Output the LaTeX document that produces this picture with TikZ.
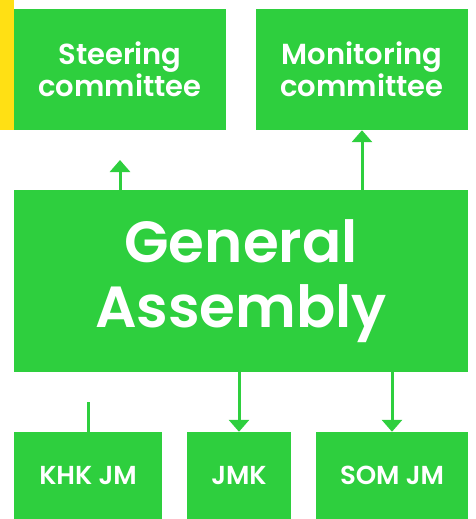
\documentclass[tikz,border=0pt]{standalone}
\usepackage{fontspec}
\setmainfont{Poppins}[BoldFont={Poppins SemiBold}]
\usetikzlibrary{arrows.meta}
\definecolor{gr}{RGB}{46,207,62}
\definecolor{yl}{RGB}{255,224,20}
\begin{document}
\begin{tikzpicture}[x=1pt,y=-1pt,
  box/.style={fill=gr,draw=none,inner sep=0pt,text=white,align=center},
  conn/.style={draw=gr,line width=3pt,-{Triangle[width=20pt,length=12pt]}},
  plain/.style={draw=gr,line width=3pt}]
\useasboundingbox (0,0) rectangle (475,519);
\fill[yl] (0,0) rectangle (14,130);
\node[box,minimum width=212pt,minimum height=121pt,font=\fontsize{29}{32}\selectfont\bfseries] (steer) at (120,69.5) {Steering\\committee};
\node[box,minimum width=212pt,minimum height=121pt,font=\fontsize{29}{32}\selectfont\bfseries] (mon) at (362,69.5) {Monitoring\\committee};
\node[box,minimum width=454pt,minimum height=182pt,font=\fontsize{58}{65}\selectfont\bfseries] (ga) at (241,281) {General\\Assembly};
\node[box,minimum width=148pt,minimum height=87pt,font=\fontsize{26}{30}\selectfont\bfseries] (khk) at (88,475.5) {KHK JM};
\node[box,minimum width=104pt,minimum height=87pt,font=\fontsize{26}{30}\selectfont\bfseries] (jmk) at (239,475.5) {JMK};
\node[box,minimum width=152pt,minimum height=87pt,font=\fontsize{26}{30}\selectfont\bfseries] (som) at (392,475.5) {SOM JM};
\coordinate (steerend) at (120,160);
\coordinate (khkend) at (88,402);
\draw[conn] (ga.north -| steerend) -- (steerend);
\draw[conn] (ga.north -| mon.south) -- (mon.south);
\draw[plain] (khk.north) -- (khkend);
\draw[conn] (ga.south -| jmk.north) -- (jmk.north);
\draw[conn] (ga.south -| som.north) -- (som.north);
\end{tikzpicture}
\end{document}
